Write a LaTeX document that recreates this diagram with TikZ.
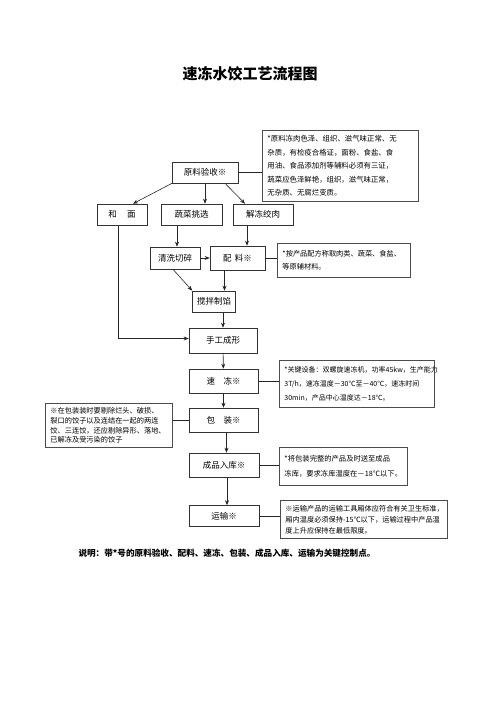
\documentclass[tikz,border=0pt]{standalone}
\usepackage{fontspec}
\setmainfont{Noto Sans CJK SC}
\usetikzlibrary{arrows.meta, positioning, calc}

\begin{document}
\begin{tikzpicture}[
    x=1pt, y=-1pt,
    stepbox/.style={rectangle, draw=black!80, line width=0.6pt, inner sep=0pt,
                    font=\fontsize{8.5}{10}\selectfont},
    notebox/.style={rectangle, draw=black!70, line width=0.9pt, anchor=north west,
                    align=left, inner xsep=5pt, inner ysep=2pt},
    arrow/.style={-{Stealth[length=5pt, width=4pt]}, line width=0.6pt, black!85},
    link/.style={line width=0.6pt, black!85}
]
    \useasboundingbox (0,0) rectangle (500,708);

    \node[font=\fontsize{15}{18}\selectfont\bfseries] (title) at (250,74) {速冻水饺工艺流程图};

    % main steps
    \node[stepbox, minimum width=66pt, minimum height=21pt] (yanshou) at (205,172.5) {原料验收※};
    \node[stepbox, minimum width=50pt, minimum height=21pt] (hemian) at (122,214.5) {和\hspace{1.2em}面};
    \node[stepbox, minimum width=61pt, minimum height=21pt] (shucai) at (191.5,214.5) {蔬菜挑选};
    \node[stepbox, minimum width=60pt, minimum height=21pt] (jiedong) at (263,214.5) {解冻绞肉};
    \node[stepbox, minimum width=50pt, minimum height=22pt] (qingxi) at (175,258) {清洗切碎};
    \node[stepbox, minimum width=55pt, minimum height=24pt] (peiliao) at (237.5,258) {配\hspace{0.4em}料※};
    \node[stepbox, minimum width=43pt, minimum height=21pt] (jiaoban) at (214,301.5) {搅拌制馅};
    \node[stepbox, minimum width=68pt, minimum height=25pt] (chengxing) at (223,340.5) {手工成形};
    \node[stepbox, minimum width=69pt, minimum height=24pt] (sudong) at (223.5,381) {速\hspace{1em}冻※};
    \node[stepbox, minimum width=69pt, minimum height=24pt] (baozhuang) at (223.5,420) {包\hspace{1em}装※};
    \node[stepbox, minimum width=70pt, minimum height=24pt] (ruku) at (224,465) {成品入库※};
    \node[stepbox, minimum width=70pt, minimum height=21pt] (yunshu) at (224,516) {运输※};

    % notes
    \node[notebox, text width=146pt, minimum height=71pt, font=\fontsize{7.4}{13.5}\selectfont] (note1) at (262,130)
        {*原料冻肉色泽、组织、滋气味正常、无\\杂质，有检疫合格证，面粉、食盐、食\\用油、食品添加剂等辅料必须有三证，\\蔬菜应色泽鲜艳，组织，滋气味正常，\\无杂质、无腐烂变质。};
    \node[notebox, text width=123pt, minimum height=34pt, font=\fontsize{7.2}{13}\selectfont] (note2) at (277,243)
        {*按产品配方称取肉类、蔬菜、食盐、\\等原辅材料。};
    \node[notebox, text width=145pt, minimum height=47pt, font=\fontsize{7}{14}\selectfont] (note3) at (279,360)
        {*关键设备：双螺旋速冻机，功率45kw，生产能力\\3T/h，速冻温度－30℃至－40℃，速冻时间\\30min，产品中心温度达－18℃。};
    \node[notebox, text width=117pt, minimum height=44pt, font=\fontsize{7.2}{9.8}\selectfont] (note4) at (45,403)
        {※在包装装时要剔除烂头、破损、\\裂口的饺子以及连结在一起的两连\\饺、三连饺，还应剔除异形、落地、\\已解冻及受污染的饺子};
    \node[notebox, text width=118pt, minimum height=38pt, font=\fontsize{7.3}{15}\selectfont] (note5) at (279,447)
        {*将包装完整的产品及时送至成品\\冻库，要求冻库温度在－18℃以下。};
    \node[notebox, text width=157pt, minimum height=38pt, font=\fontsize{7.2}{11}\selectfont] (note6) at (280,500)
        {※运输产品的运输工具厢体应符合有关卫生标准，\\厢内温度必须保持-15℃以下，运输过程中产品温\\度上升应保持在最低限度。};

    \node[anchor=west, font=\fontsize{8.6}{10}\selectfont\bfseries] (shuoming) at (75,553)
        {说明：带*号的原料验收、配料、速冻、包装、成品入库、运输为关键控制点。};

    % arrows
    \draw[arrow] ([xshift=-33pt]yanshou.south) -- ([xshift=11pt]hemian.north);
    \draw[arrow] (yanshou.south) -- (yanshou.south |- shucai.north);
    \draw[arrow] ([xshift=20pt]yanshou.south) -- ([xshift=-18pt]jiedong.north);
    \draw[arrow] ([xshift=-4pt]hemian.south) |- ([yshift=2pt]chengxing.west);
    \draw[arrow] ([xshift=2pt]qingxi.north |- shucai.south) -- ([xshift=2pt]qingxi.north);
    \draw[arrow] ([xshift=-16pt]jiedong.south) -- ([xshift=-16pt]jiedong.south |- peiliao.north);
    \draw[arrow] (qingxi) -- (peiliao);
    \draw[arrow] ([xshift=-2pt]qingxi.south) -- (jiaoban.north west);
    \draw[arrow] ([xshift=-13pt]peiliao.south) -- ([xshift=-13pt]peiliao.south |- jiaoban.north);
    \draw[arrow] (chengxing.north |- jiaoban.south) -- (chengxing.north);
    \draw[arrow] (chengxing) -- (sudong);
    \draw[arrow] (sudong) -- (baozhuang);
    \draw[arrow] ([xshift=3pt]baozhuang.south) -- ([xshift=3pt]baozhuang.south |- ruku.north);
    \draw[arrow] ([xshift=3pt]ruku.south) -- ([xshift=3pt]ruku.south |- yunshu.north);

    % links to notes
    \draw[link] (yanshou.east) -- (yanshou.east -| note1.west);
    \draw[link] (peiliao.east) -- (peiliao.east -| note2.west);
    \draw[link] (sudong.east) -- (sudong.east -| note3.west);
    \draw[link] (baozhuang.west) -- (baozhuang.west -| note4.east);
    \draw[link] (ruku.east) -- (ruku.east -| note5.west);
    \draw[link] (yunshu.east) -- (yunshu.east -| note6.west);
\end{tikzpicture}
\end{document}
